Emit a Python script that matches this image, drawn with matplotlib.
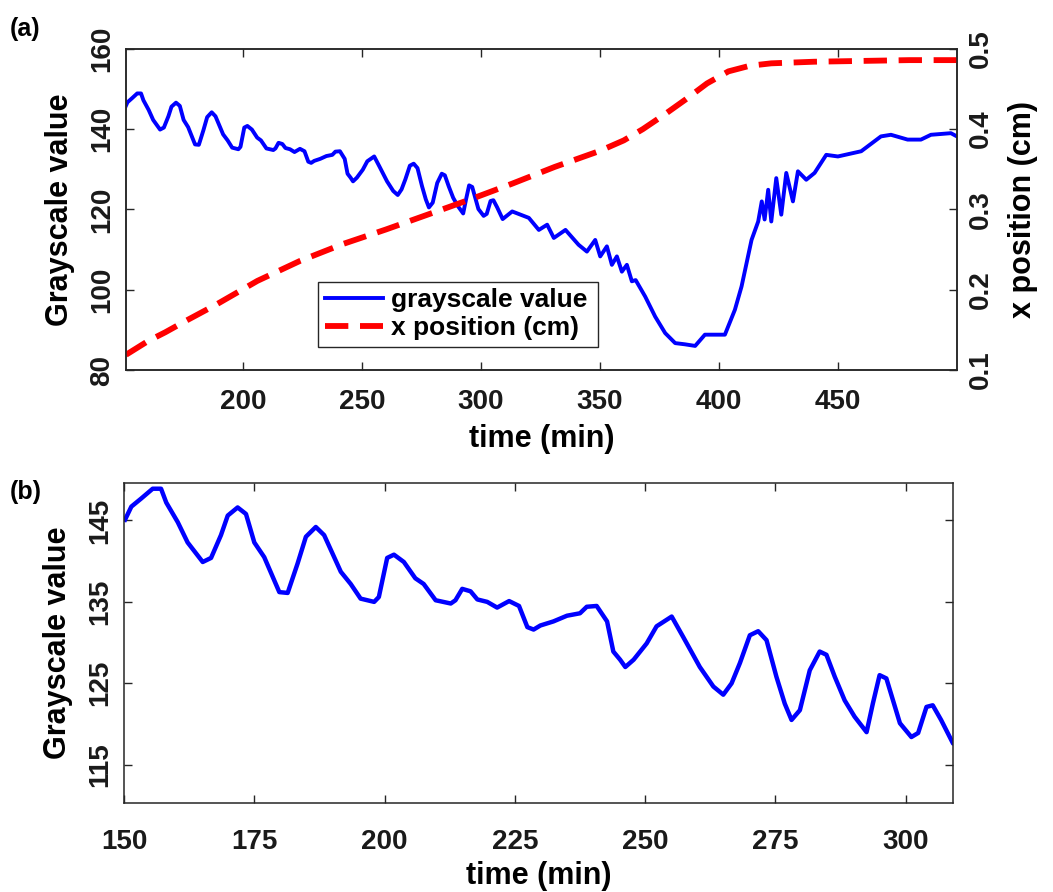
import numpy as np
import matplotlib
matplotlib.use("Agg")
import matplotlib.pyplot as plt

plt.rcParams['font.family'] = ['Liberation Sans', 'DejaVu Sans']
plt.rcParams['font.weight'] = 'bold'
plt.rcParams['axes.labelweight'] = 'bold'

# grayscale value vs time (min)
t_gray = [150.2, 151.4, 153.3, 155.5, 157.1, 158.1, 160.3, 162.2, 165.1, 166.7,
          168.6, 169.9, 171.8, 173.4, 175.0, 176.9, 179.8, 181.4, 183.3, 184.9,
          186.8, 188.4, 191.6, 193.5, 195.4, 198.0, 198.9, 200.5, 201.8, 203.7,
          205.9, 207.5, 209.8, 212.7, 213.6, 214.9, 216.5, 217.8, 219.7, 221.6,
          223.9, 225.8, 227.4, 228.6, 229.9, 232.4, 235.0, 237.5, 238.8, 240.7,
          242.7, 243.9, 245.2, 246.2, 247.8, 250.3, 252.2, 255.1, 257.3, 260.5,
          263.1, 265.0, 266.6, 268.2, 270.1, 271.7, 273.3, 275.2, 276.8, 278.1,
          279.7, 281.6, 283.5, 284.8, 286.4, 288.3, 290.2, 292.5, 293.7, 295.0,
          296.3, 298.9, 301.1, 302.4, 304.0, 305.2, 306.8, 309.1, 313.1, 320.1,
          324.3, 327.8, 330.6, 335.5, 341.0, 344.5, 348.0, 350.1, 352.9, 355.0,
          357.1, 359.2, 361.3, 363.4, 365.0, 369.0, 373.2, 377.4, 381.6, 385.7,
          390.0, 394.1, 402.5, 406.7, 409.5, 413.7, 416.5, 418.0, 419.2, 420.7,
          422.0, 424.1, 426.2, 428.3, 431.1, 433.2, 436.7, 440.2, 445.1, 450.0,
          459.8, 468.1, 472.3, 479.3, 484.9, 489.1, 497.5, 500.0]
gray = [145.1, 146.7, 147.7, 148.9, 148.9, 147.2, 144.8, 142.3, 139.9, 140.4,
        143.2, 145.6, 146.6, 145.8, 142.3, 140.5, 136.2, 136.1, 139.7, 143.0,
        144.2, 143.2, 138.7, 137.2, 135.4, 135.0, 135.6, 140.4, 140.8, 139.9,
        137.9, 137.2, 135.2, 134.8, 135.2, 136.6, 136.3, 135.3, 135.0, 134.3,
        135.1, 134.5, 131.9, 131.6, 132.1, 132.6, 133.3, 133.6, 134.4, 134.5,
        132.6, 128.9, 127.9, 127.0, 127.9, 129.9, 132.0, 133.2, 130.7, 127.0,
        124.6, 123.6, 125.0, 127.5, 130.9, 131.4, 130.3, 125.8, 122.5, 120.5,
        121.7, 126.6, 128.9, 128.5, 125.8, 122.9, 120.9, 119.0, 122.5, 126.0,
        125.6, 120.1, 118.4, 118.9, 122.1, 122.3, 120.5, 117.6, 119.5, 117.9,
        114.9, 116.2, 112.9, 114.9, 111.2, 109.5, 112.4, 108.3, 110.8, 106.2,
        108.3, 104.5, 106.2, 102.1, 102.4, 98.3, 93.3, 89.2, 86.7, 86.4,
        86.0, 88.8, 88.8, 95.0, 100.8, 112.4, 117.0, 122.0, 117.5, 124.9,
        117.0, 127.8, 118.7, 129.1, 122.0, 129.5, 127.4, 129.1, 133.6, 133.2,
        134.5, 138.2, 138.6, 137.4, 137.4, 138.6, 139.0, 138.2]

# x position (cm) vs time (min)
t_pos = [150.8, 160, 167.3, 175.8, 189, 206, 224, 242, 260, 278, 295, 313, 331,
         350, 360, 368, 377, 386, 395, 404, 413, 422, 440, 460, 480, 500]
xpos = [0.119, 0.136, 0.147, 0.161, 0.182, 0.211, 0.236, 0.257, 0.275, 0.294,
        0.312, 0.332, 0.353, 0.373, 0.386, 0.400, 0.418, 0.437, 0.457, 0.472,
        0.479, 0.482, 0.484, 0.485, 0.486, 0.486]

top_xticks = [200, 250, 300, 350, 400, 450]
top_yticks = [80, 100, 120, 140, 160]
right_yticks = [0.1, 0.2, 0.3, 0.4, 0.5]
bot_xticks = [150, 175, 200, 225, 250, 275, 300]
bot_yticks = [115, 125, 135, 145]

edge = '#262626'
tick_fs = 20
label_fs = 22


def style(ax):
    for s in ax.spines.values():
        s.set_color(edge)
        s.set_linewidth(1.1)
    ax.tick_params(direction='in', length=6, width=1.0, color=edge,
                   labelsize=tick_fs, labelcolor='#1a1a1a')


fig = plt.figure(figsize=(10.53, 8.92), dpi=100)

# (a) full record with position on a second axis
ax1 = fig.add_axes([0.1197, 0.5852, 0.789, 0.36])
ax1.plot(t_gray, gray, color='#0000ff', lw=2.8, label='grayscale value')
ax1.set_xlim(150.8, 500)
ax1.set_ylim(80, 160)
ax1.set_xticks(top_xticks)
ax1.set_yticks(top_yticks)
style(ax1)
ax1.tick_params(top=True, right=False)
ax1.tick_params(axis='x', pad=14)
ax1.tick_params(axis='y', labelrotation=90, pad=8)
for lb in ax1.get_yticklabels():
    lb.set_va('center')
ax1.set_xlabel('time (min)', fontsize=label_fs, labelpad=6)
ax1.set_ylabel('Grayscale value', fontsize=label_fs, labelpad=10)

ax2 = ax1.twinx()
ax2.plot(t_pos, xpos, color='#ff0000', lw=4.2, ls=(0, (4, 2)),
         label='x position (cm)')
ax2.set_ylim(0.1, 0.5)
ax2.set_yticks(right_yticks)
style(ax2)
ax2.tick_params(axis='y', labelrotation=90, pad=8)
for lb in ax2.get_yticklabels():
    lb.set_va('center')
ax2.set_ylabel('x position (cm)', fontsize=label_fs, labelpad=10)

h1, l1 = ax1.get_legend_handles_labels()
h2, l2 = ax2.get_legend_handles_labels()
leg = ax2.legend(h1 + h2, l1 + l2, loc='lower left',
                 bbox_to_anchor=(0.231, 0.072, 0.337, 0.218), mode='expand',
                 fontsize=19, handlelength=2.2, handletextpad=0.3,
                 borderpad=0.25, labelspacing=0.15, fancybox=False,
                 framealpha=1, edgecolor=edge, borderaxespad=0)
leg.get_frame().set_linewidth(1.0)

# (b) zoom on the early part
ax3 = fig.add_axes([0.1178, 0.0998, 0.7873, 0.3587])
ax3.plot(t_gray, gray, color='#0000ff', lw=3.2)
ax3.set_xlim(150, 309.1)
ax3.set_ylim(110.3, 149.6)
ax3.set_xticks(bot_xticks)
ax3.set_yticks(bot_yticks)
style(ax3)
ax3.tick_params(top=True, right=True)
ax3.tick_params(axis='x', pad=19)
ax3.tick_params(axis='y', labelrotation=90, pad=8)
for lb in ax3.get_yticklabels():
    lb.set_va('center')
ax3.set_xlabel('time (min)', fontsize=label_fs, labelpad=4)
ax3.set_ylabel('Grayscale value', fontsize=label_fs, labelpad=10)

fig.text(0.009, 0.968, '(a)', fontsize=18, fontweight='bold', va='center')
fig.text(0.009, 0.448, '(b)', fontsize=18, fontweight='bold', va='center')

fig.savefig('out.png', dpi=100)
